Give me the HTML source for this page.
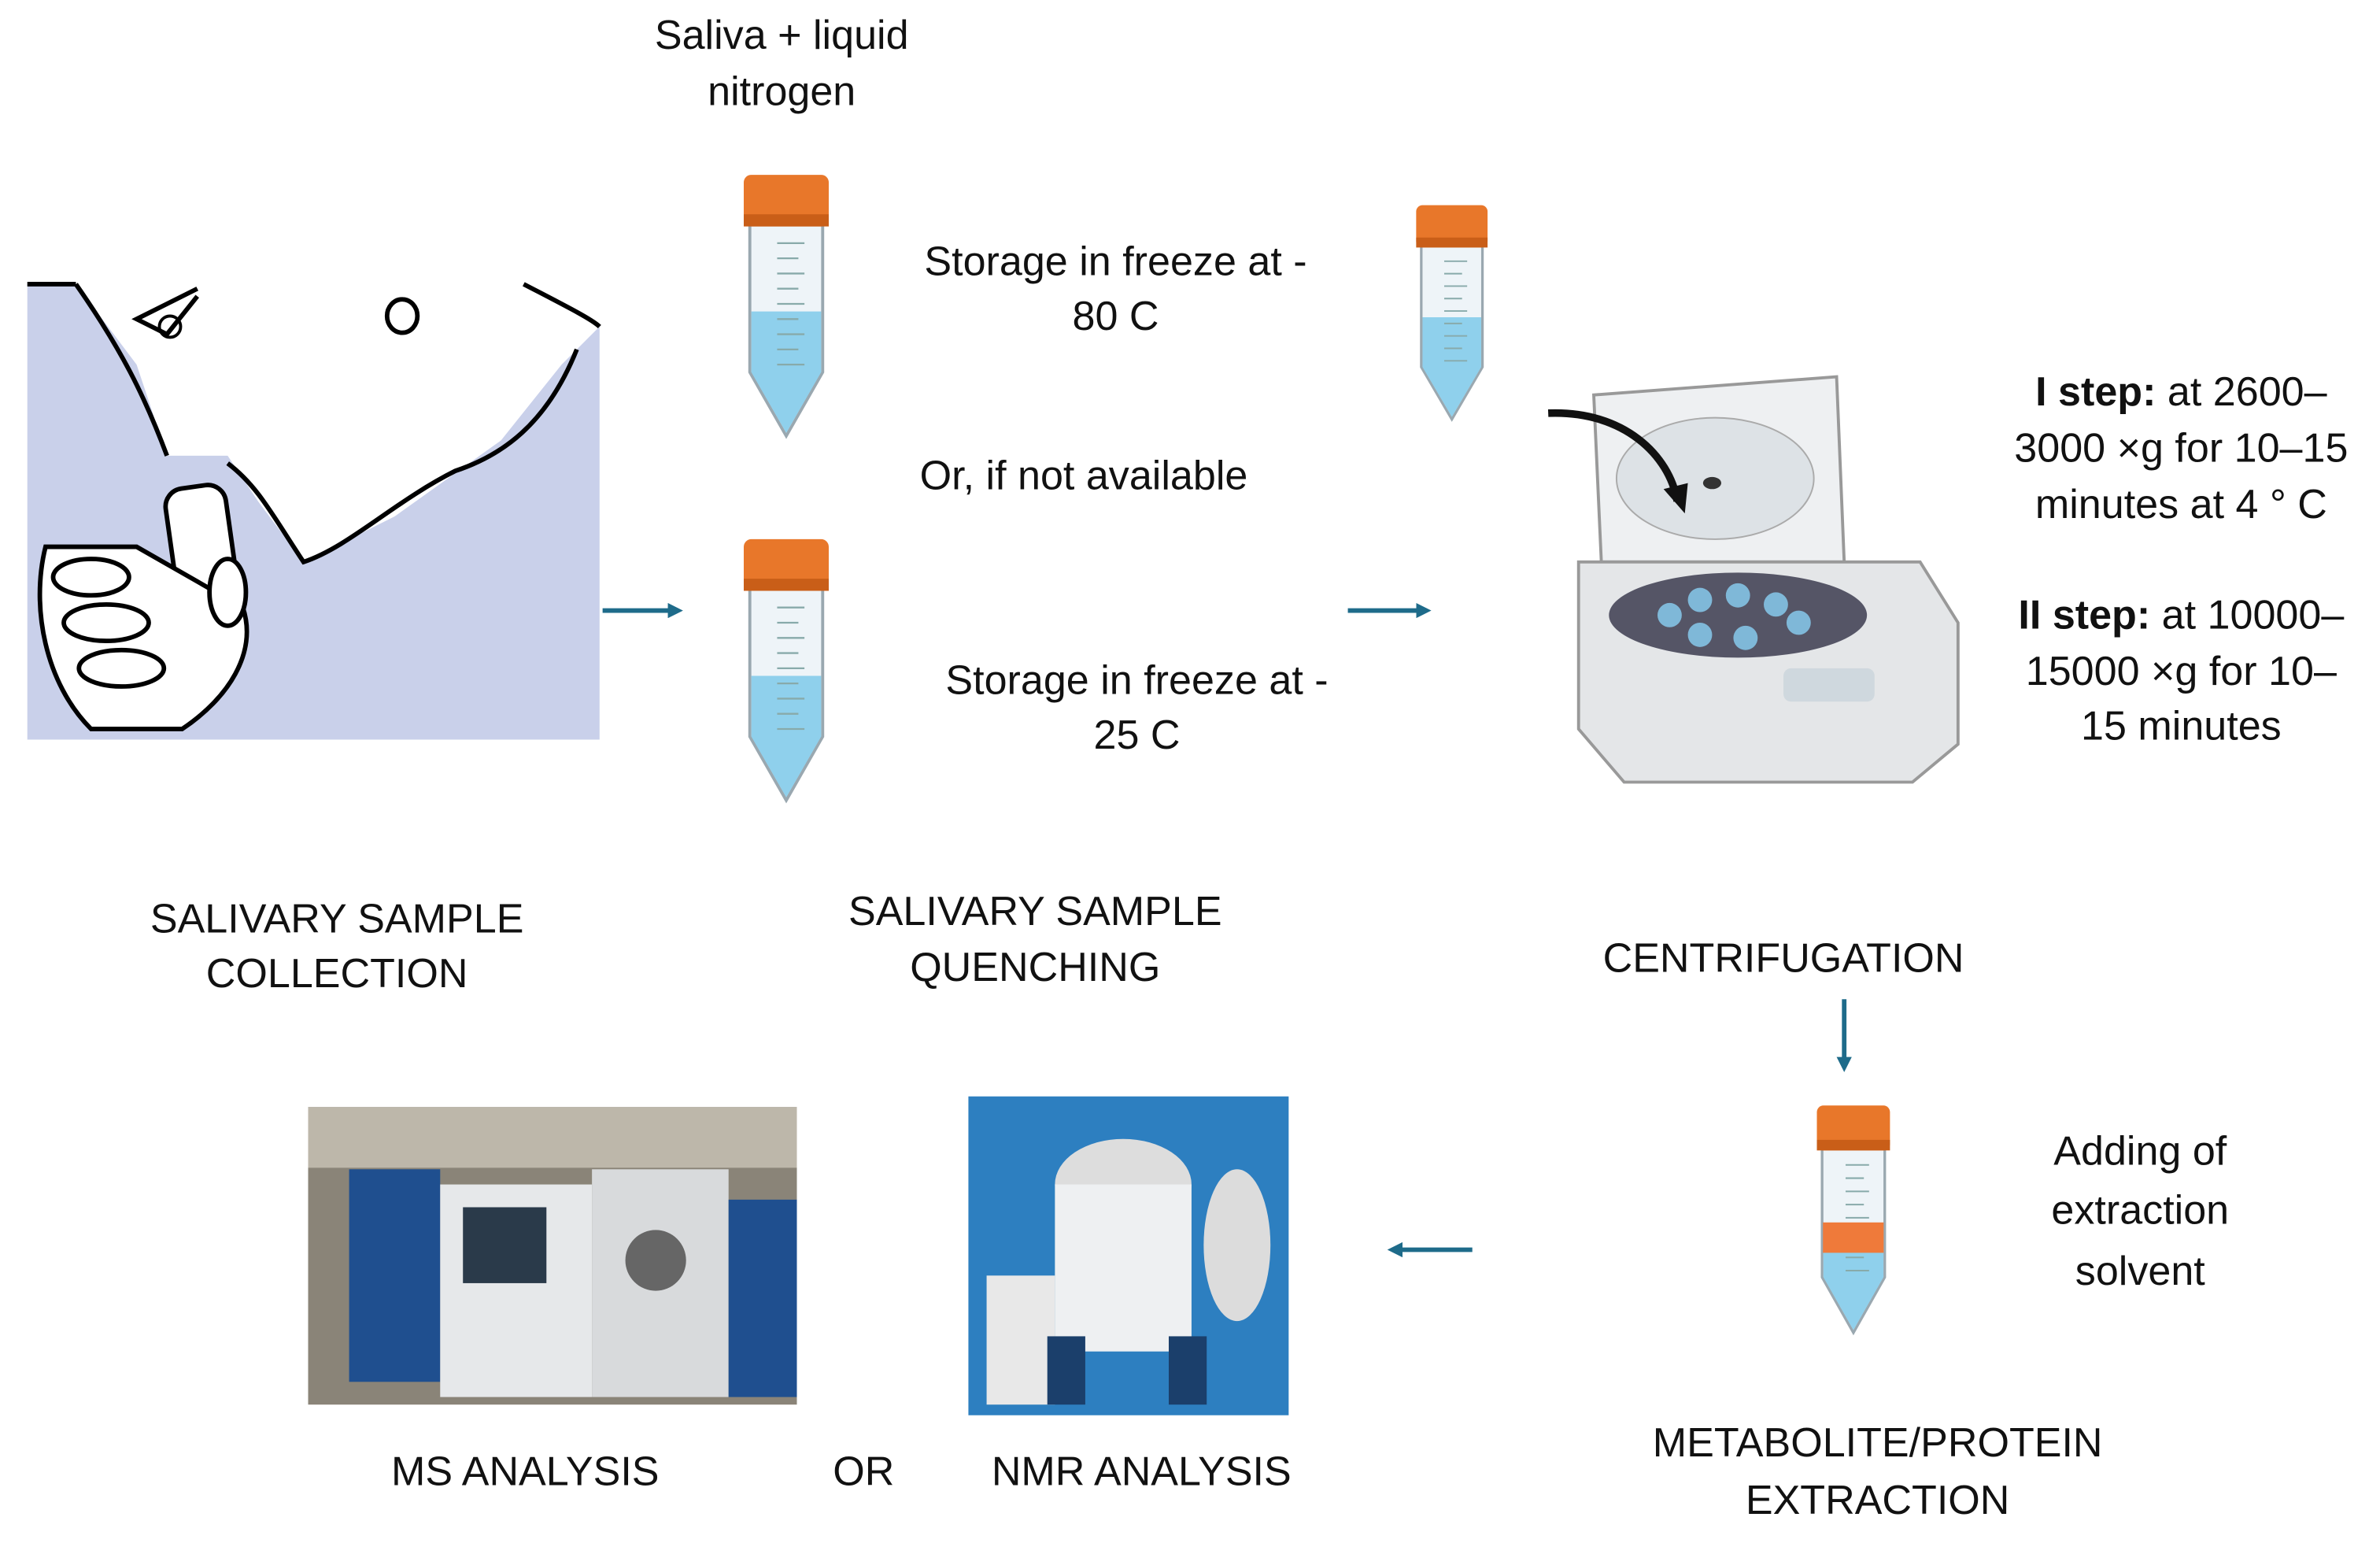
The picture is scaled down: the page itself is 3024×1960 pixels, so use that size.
<!DOCTYPE html>
<html><head><meta charset="utf-8"><style>
html,body{margin:0;padding:0;background:#fff;width:3024px;height:1960px;overflow:hidden}
svg{display:block}
text{font-family:"Liberation Sans",sans-serif;font-size:27px;fill:#111;text-anchor:middle}
</style></head><body>
<svg width="3024" height="1960" viewBox="0 0 1568 1016" xmlns="http://www.w3.org/2000/svg">
<defs>
<g id="tube">
  <path d="M4,30 L52,30 L52,130 L28,172 L4,130 Z" fill="#eef4f8" stroke="#9aa8b0" stroke-width="2"/>
  <path d="M5,90 L51,90 L51,130 L28,170 L5,130 Z" fill="#8fd0ec"/>
  <g stroke="#8aa" stroke-width="1.2">
    <line x1="22" y1="45" x2="40" y2="45"/><line x1="22" y1="55" x2="36" y2="55"/><line x1="22" y1="65" x2="40" y2="65"/>
    <line x1="22" y1="75" x2="36" y2="75"/><line x1="22" y1="85" x2="40" y2="85"/><line x1="22" y1="95" x2="36" y2="95"/>
    <line x1="22" y1="105" x2="40" y2="105"/><line x1="22" y1="115" x2="36" y2="115"/><line x1="22" y1="125" x2="40" y2="125"/>
  </g>
  <rect x="0" y="0" width="56" height="34" rx="5" fill="#e8772a"/>
  <rect x="0" y="26" width="56" height="8" fill="#c95e18"/>
</g>
<marker id="ah" markerWidth="10" markerHeight="10" refX="7" refY="5" orient="auto" markerUnits="userSpaceOnUse"><path d="M0,0 L10,5 L0,10 Z" fill="#1e6b8a"/></marker>
</defs>

<path d="M18,187 L50,187 L90,240 L110,300 L150,300 L170,330 L200,370 L260,340 L330,290 L370,240 L395,215 L395,487 L18,487 Z" fill="#c9d0ea"/>
<path d="M18,187 L50,187 M50,187 C80,230 95,260 110,300 M130,190 L90,210 L110,220 L130,195 M345,187 C370,200 390,210 395,215 M380,230 C360,280 330,300 300,310 C260,330 230,360 200,370 C180,340 170,320 150,305" stroke="#000" stroke-width="3" fill="none"/>
<ellipse cx="265" cy="208" rx="10" ry="11" fill="none" stroke="#000" stroke-width="3"/>
<circle cx="112" cy="215" r="7" fill="none" stroke="#000" stroke-width="2"/>
<rect x="115" y="320" width="40" height="110" rx="12" fill="#fff" stroke="#000" stroke-width="3" transform="rotate(-8 135 375)"/>
<g fill="#fff" stroke="#000" stroke-width="3">
  <path d="M30,360 C20,400 30,450 60,480 L120,480 C150,460 170,430 160,400 L90,360 Z"/>
  <ellipse cx="60" cy="380" rx="25" ry="12"/><ellipse cx="70" cy="410" rx="28" ry="12"/><ellipse cx="80" cy="440" rx="28" ry="12"/><ellipse cx="150" cy="390" rx="12" ry="22"/>
</g>

<text x="515" y="32">Saliva + liquid</text>
<text x="515" y="69">nitrogen</text>

<use href="#tube" x="490" y="115"/>
<use href="#tube" x="490" y="355"/>
<use href="#tube" transform="translate(933,135) scale(0.84,0.82)"/>
<use href="#tube" transform="translate(1197,728) scale(0.86,0.87)"/>
<rect x="1201" y="805" width="40" height="20" fill="#ef7a3a"/>

<text x="735" y="181">Storage in freeze at -</text>
<text x="735" y="217">80 C</text>
<text x="714" y="322">Or, if not available</text>
<text x="749" y="457">Storage in freeze at -</text>
<text x="749" y="493">25 C</text>

<g stroke="#1e6b8a" stroke-width="3" marker-end="url(#ah)">
<line x1="397" y1="402" x2="447" y2="402"/>
<line x1="888" y1="402" x2="940" y2="402"/>
<line x1="1215" y1="658" x2="1215" y2="703"/>
<line x1="970" y1="823" x2="917" y2="823"/>
</g>

<path d="M1050,260 L1210,248 L1215,370 L1055,370 Z" fill="#eef0f2" stroke="#999" stroke-width="2"/>
<ellipse cx="1130" cy="315" rx="65" ry="40" fill="#dde2e6" stroke="#aaa"/>
<ellipse cx="1128" cy="318" rx="6" ry="4" fill="#333"/>
<path d="M1020,272 C1070,270 1100,300 1105,330" stroke="#111" stroke-width="5" fill="none"/>
<path d="M1096,322 L1110,338 L1112,318 Z" fill="#111"/>
<path d="M1040,370 L1265,370 L1290,410 L1290,490 L1260,515 L1070,515 L1040,480 Z" fill="#e4e6e8" stroke="#999" stroke-width="2"/>
<ellipse cx="1145" cy="405" rx="85" ry="28" fill="#556"/>
<g fill="#7fb8d8"><circle cx="1100" cy="405" r="8"/><circle cx="1120" cy="395" r="8"/><circle cx="1145" cy="392" r="8"/><circle cx="1170" cy="398" r="8"/><circle cx="1185" cy="410" r="8"/><circle cx="1120" cy="418" r="8"/><circle cx="1150" cy="420" r="8"/></g>
<rect x="1175" y="440" width="60" height="22" rx="5" fill="#cfd8de"/>

<text x="1437" y="267"><tspan font-weight="bold">I step:</tspan> at 2600–</text>
<text x="1437" y="304">3000 ×g for 10–15</text>
<text x="1437" y="341">minutes at 4 ° C</text>
<text x="1437" y="414"><tspan font-weight="bold">II step:</tspan> at 10000–</text>
<text x="1437" y="451">15000 ×g for 10–</text>
<text x="1437" y="487">15 minutes</text>

<text x="222" y="614">SALIVARY SAMPLE</text>
<text x="222" y="650">COLLECTION</text>
<text x="682" y="609">SALIVARY SAMPLE</text>
<text x="682" y="646">QUENCHING</text>
<text x="1175" y="640">CENTRIFUGATION</text>

<text x="1410" y="767" font-size="28">Adding of</text>
<text x="1410" y="806" font-size="28">extraction</text>
<text x="1410" y="846" font-size="28">solvent</text>

<rect x="203" y="729" width="322" height="196" fill="#8a8478"/>
<rect x="203" y="729" width="322" height="40" fill="#bdb7aa"/>
<rect x="230" y="770" width="60" height="140" fill="#1f4f8f"/>
<rect x="290" y="780" width="100" height="140" fill="#e6e8ea"/>
<rect x="305" y="795" width="55" height="50" fill="#2a3a4a"/>
<rect x="390" y="770" width="90" height="150" fill="#d8dadc"/>
<circle cx="432" cy="830" r="20" fill="#666"/>
<rect x="480" y="790" width="45" height="130" fill="#1f4f8f"/>

<rect x="638" y="722" width="211" height="210" fill="#2d7fc0"/>
<ellipse cx="740" cy="780" rx="45" ry="30" fill="#ddd"/>
<rect x="695" y="780" width="90" height="110" fill="#eef0f2"/>
<rect x="650" y="840" width="45" height="85" fill="#e8e8e8"/>
<rect x="690" y="880" width="25" height="45" fill="#1b3f6b"/>
<rect x="770" y="880" width="25" height="45" fill="#1b3f6b"/>
<ellipse cx="815" cy="820" rx="22" ry="50" fill="#dcdcdc"/>

<text x="1237" y="959">METABOLITE/PROTEIN</text>
<text x="1237" y="997">EXTRACTION</text>
<text x="346" y="978">MS ANALYSIS</text>
<text x="569" y="978">OR</text>
<text x="752" y="978">NMR ANALYSIS</text>
</svg>
</body></html>
